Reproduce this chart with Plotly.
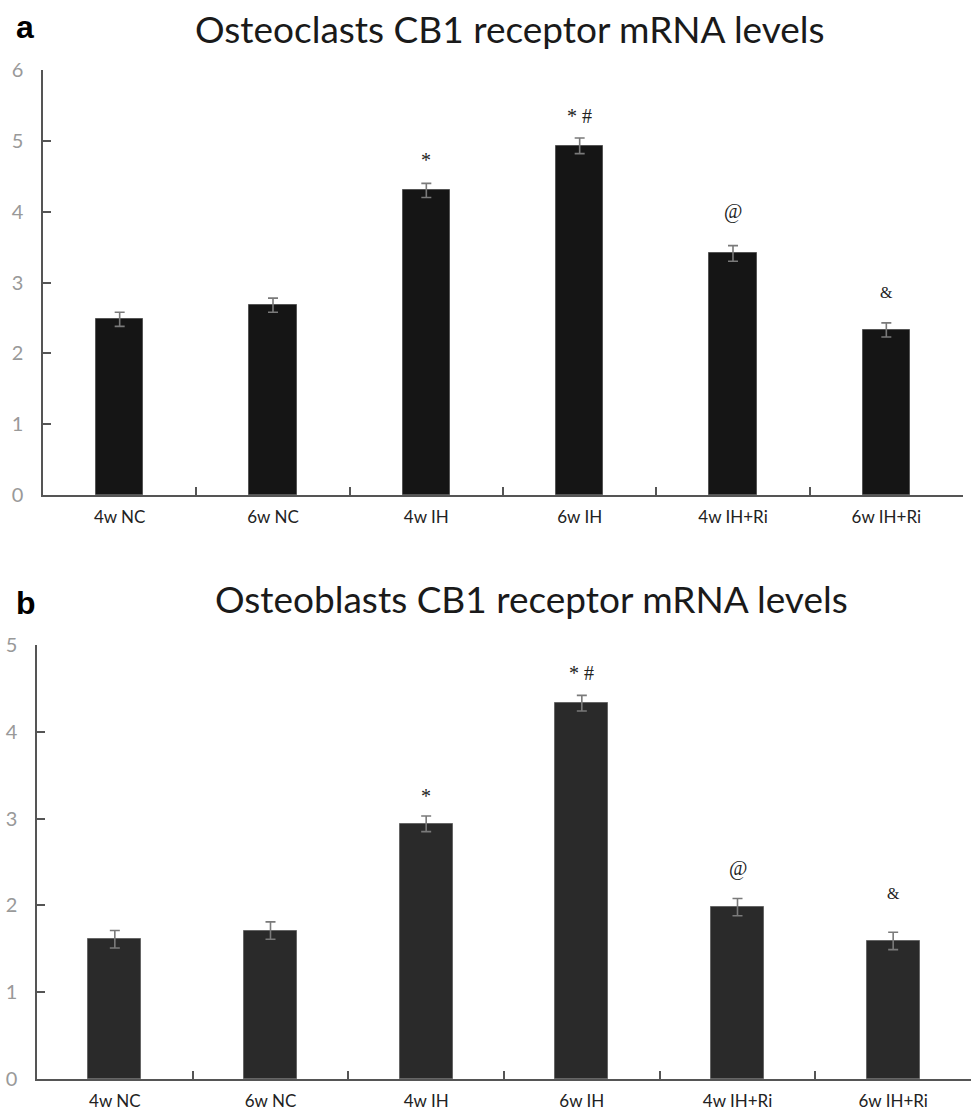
import plotly.graph_objects as go

categories = ["4w NC", "6w NC", "4w IH", "6w IH", "4w IH+Ri", "6w IH+Ri"]

clast_values = [2.48, 2.68, 4.30, 4.93, 3.41, 2.33]
clast_errors = [0.10, 0.10, 0.10, 0.11, 0.11, 0.10]
clast_marks = ["", "", "*", "* #", "@", "&"]

blast_values = [1.61, 1.71, 2.94, 4.33, 1.98, 1.59]
blast_errors = [0.10, 0.10, 0.09, 0.09, 0.10, 0.10]
blast_marks = ["", "", "*", "* #", "@", "&"]

clast_ticks = [0, 1, 2, 3, 4, 5, 6]
blast_ticks = [0, 1, 2, 3, 4, 5]

W, H = 971, 1115

fig = go.Figure()

fig.add_trace(go.Bar(
    x=categories, y=clast_values, width=0.31,
    marker=dict(color="#151515", line=dict(color="#555555", width=1)),
    error_y=dict(type="data", array=clast_errors, color="#7a7a7a", thickness=1.6, width=5),
    xaxis="x", yaxis="y", showlegend=False))

fig.add_trace(go.Bar(
    x=categories, y=blast_values, width=0.34,
    marker=dict(color="#2a2a2a", line=dict(color="#666666", width=1)),
    error_y=dict(type="data", array=blast_errors, color="#7a7a7a", thickness=1.6, width=5),
    xaxis="x2", yaxis="y2", showlegend=False))

axis_common = dict(showgrid=False, zeroline=False, showline=True, linecolor="#555555",
                   linewidth=1.5, ticks="inside", tickcolor="#555555", ticklen=8, tickwidth=1.5,
                   automargin=False)

xfont = dict(family="Lato, Open Sans, sans-serif", size=17, color="#222222")
yfont = dict(family="Lato, Open Sans, sans-serif", size=20, color="#999999")

fig.update_layout(
    width=W, height=H, margin=dict(l=0, r=0, t=0, b=0, autoexpand=False),
    paper_bgcolor="white", plot_bgcolor="white",
    bargap=0,
    xaxis=dict(domain=[43 / W, 963 / W], anchor="y", type="category", tickson="boundaries",
               tickfont=xfont, ticklabelstandoff=6, **axis_common),
    yaxis=dict(domain=[1 - 495 / H, 1 - 70 / H], anchor="x", range=[0, 6], tickvals=clast_ticks,
               tickfont=yfont, ticklabelstandoff=14, **axis_common),
    xaxis2=dict(domain=[37 / W, 1.0], anchor="y2", type="category", tickson="boundaries",
                tickfont=xfont, ticklabelstandoff=6, **axis_common),
    yaxis2=dict(domain=[1 - 1079 / H, 1 - 645 / H], anchor="x2", range=[0, 5], tickvals=blast_ticks,
                tickfont=yfont, ticklabelstandoff=14, **axis_common),
)

annotations = []
shifts_c = [0, 0, 23, 22, 34, 30]
for c, v, e, m, s in zip(categories, clast_values, clast_errors, clast_marks, shifts_c):
    if m:
        annotations.append(dict(x=c, y=v + e, xref="x", yref="y", text=m, showarrow=False,
                                yanchor="middle", yshift=s,
                                font=dict(family="Liberation Serif, serif", size=20 if m != "&" else 16, color="#222222")))
shifts_b = [0, 0, 20, 22, 30, 39]
for c, v, e, m, s in zip(categories, blast_values, blast_errors, blast_marks, shifts_b):
    if m:
        annotations.append(dict(x=c, y=v + e, xref="x2", yref="y2", text=m, showarrow=False,
                                yanchor="middle", yshift=s,
                                font=dict(family="Liberation Serif, serif", size=20 if m != "&" else 16, color="#222222")))

annotations += [
    dict(x=510 / W, y=1 - 29 / H, xref="paper", yref="paper", text="Osteoclasts CB1 receptor mRNA levels",
         showarrow=False, xanchor="center", yanchor="middle",
         font=dict(family="Lato, Open Sans, sans-serif", size=37, color="#1a1a1a")),
    dict(x=531 / W, y=1 - 598 / H, xref="paper", yref="paper", text="Osteoblasts CB1 receptor mRNA levels",
         showarrow=False, xanchor="center", yanchor="middle",
         font=dict(family="Lato, Open Sans, sans-serif", size=37, color="#1a1a1a")),
    dict(x=25 / W, y=1 - 27 / H, xref="paper", yref="paper", text="<b>a</b>", showarrow=False,
         xanchor="center", yanchor="middle",
         font=dict(family="Liberation Sans, Arial, sans-serif", size=32, color="#000000")),
    dict(x=26 / W, y=1 - 603 / H, xref="paper", yref="paper", text="<b>b</b>", showarrow=False,
         xanchor="center", yanchor="middle",
         font=dict(family="Liberation Sans, Arial, sans-serif", size=32, color="#000000")),
]
fig.update_layout(annotations=annotations)

fig.write_html("out.html", config={"displayModeBar": False},
               post_script="document.body.style.margin='0';")
